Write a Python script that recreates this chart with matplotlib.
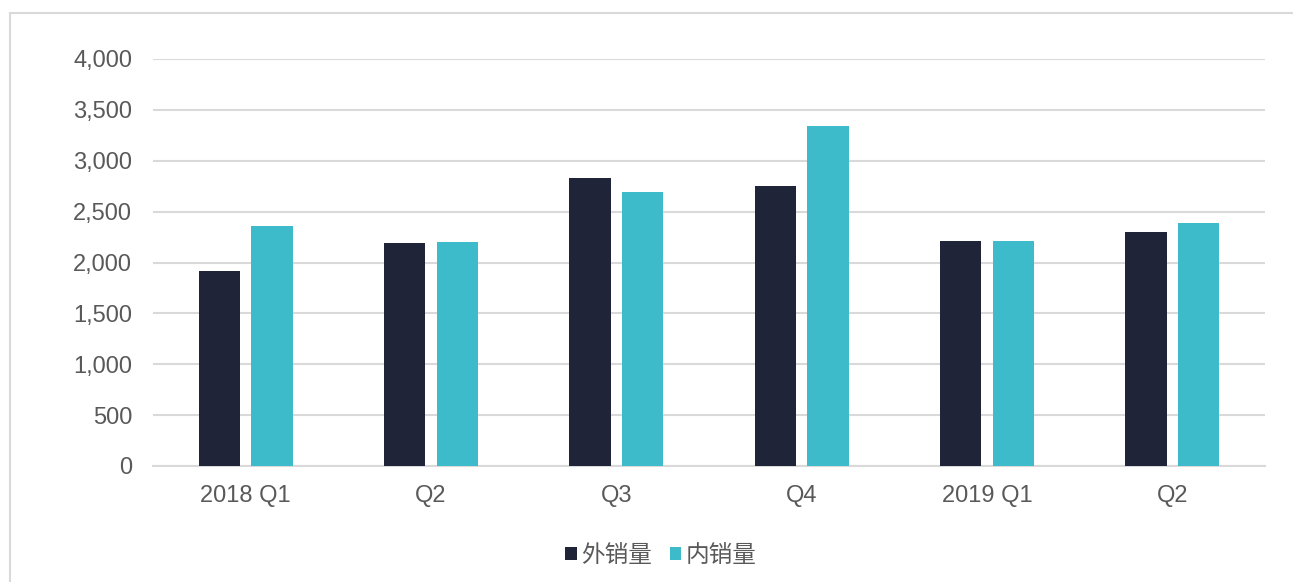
import numpy as np
import matplotlib.pyplot as plt
from matplotlib.patches import Rectangle
from matplotlib.ticker import FuncFormatter

# quarterly volumes
categories = ["2018 Q1", "Q2", "Q3", "Q4", "2019 Q1", "Q2"]
export_vol = [1920, 2190, 2830, 2755, 2215, 2300]
domestic_vol = [2360, 2200, 2695, 3340, 2215, 2390]
series_names = ["外销量", "内销量"]

DARK = "#1F2439"
TEAL = "#3DBBCA"
GRID = "#D9D9D9"
TEXT = "#595959"

plt.rcParams["font.family"] = ["Liberation Sans", "Noto Sans CJK SC", "DejaVu Sans"]

fig = plt.figure(figsize=(12.93, 5.82), dpi=100)
ax = fig.add_axes([153 / 1293, 1 - 466 / 582, (1265 - 153) / 1293, (466 - 59) / 582])

# outer frame (runs off the right/bottom edges)
fig.patches.append(Rectangle((10 / 1293, -0.05), 1.1, 1 - 13 / 582 + 0.05,
                             transform=fig.transFigure, fill=False,
                             edgecolor=GRID, linewidth=1.5))

x = np.arange(len(categories))
w = 0.222
off = 0.142
ax.bar(x - off, export_vol, w, color=DARK, label=series_names[0], zorder=3)
ax.bar(x + off, domestic_vol, w, color=TEAL, label=series_names[1], zorder=3)

ax.set_xlim(-0.5, len(categories) - 0.5)
ax.set_ylim(0, 4000)
ax.set_yticks(np.arange(0, 4001, 500))
ax.yaxis.set_major_formatter(FuncFormatter(lambda v, p: f"{int(v):,}"))
ax.set_xticks(x)
ax.set_xticklabels(categories)

ax.grid(axis="y", color=GRID, linewidth=1.5, zorder=0)
ax.set_axisbelow(True)
for s in ["top", "right", "left"]:
    ax.spines[s].set_visible(False)
ax.spines["bottom"].set_color(GRID)
ax.spines["bottom"].set_linewidth(1.5)
ax.tick_params(axis="both", length=0, labelsize=17, colors=TEXT)
ax.tick_params(axis="y", pad=15)
ax.tick_params(axis="x", pad=14)

leg = fig.legend(loc="center", bbox_to_anchor=(661 / 1293, 1 - 555 / 582), ncol=2,
                 frameon=False, handlelength=0.47, handleheight=0.47,
                 handletextpad=0.2, columnspacing=0.75,
                 prop={"family": ["Noto Sans CJK SC", "DejaVu Sans"], "size": 17})
for t in leg.get_texts():
    t.set_color(TEXT)

fig.savefig("out.png", dpi=100)
